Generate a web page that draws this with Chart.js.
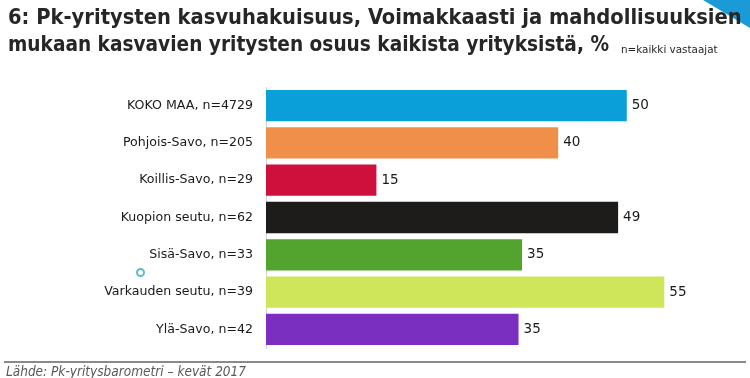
<!DOCTYPE html>
<html>
<head>
<meta charset="utf-8">
<script src="https://cdn.jsdelivr.net/npm/chart.js@4/dist/chart.umd.min.js"></script>
<style>
  html, body { margin: 0; padding: 0; background: #fff; }
  #wrap { position: relative; width: 750px; height: 378px; overflow: hidden; }
  #chart { position: absolute; left: 0; top: 0; }
  .title { position: absolute; left: 8px; font-family: "DejaVu Sans Condensed", "DejaVu Sans"; font-weight: bold;
    font-size: 22px; color: #262626; white-space: nowrap; transform-origin: 0 0; }
  #t1 { top: 4px; }
  #t2 { top: 31px; }
  #note { position: absolute; left: 621px; top: 44px; font-family: "DejaVu Sans Condensed", "DejaVu Sans";
    font-size: 10px; color: #262626; white-space: nowrap; transform-origin: 0 0; }
  #corner { position: absolute; right: 0; top: 0; width: 0; height: 0;
    border-top: 28px solid #1a9bd7; border-left: 47px solid transparent; }
  #rule { position: absolute; left: 4px; width: 742px; top: 361px; height: 2px; background: #8a8a8a; }
  #source { position: absolute; left: 6px; top: 363px; font-family: "DejaVu Sans Condensed", "DejaVu Sans";
    font-style: italic; font-size: 13.5px; color: #595959; white-space: nowrap; }
  #ring { position: absolute; left: 136px; top: 268px; width: 5px; height: 5px; border-radius: 50%;
    border: 2px solid #5cbcc4; }
</style>
</head>
<body>
<div id="wrap">
  <canvas id="chart" width="750" height="378"></canvas>
  <div id="corner"></div>
  <div class="title" id="t1">6: Pk-yritysten kasvuhakuisuus, Voimakkaasti ja mahdollisuuksien</div>
  <div class="title" id="t2">mukaan kasvavien yritysten osuus kaikista yrityksistä, %</div>
  <div id="note">n=kaikki vastaajat</div>
  <div id="ring"></div>
  <div id="rule"></div>
  <div id="source">Lähde: Pk-yritysbarometri – kevät 2017</div>
</div>
<script>
"use strict";

var categories = [
  "KOKO MAA, n=4729",
  "Pohjois-Savo, n=205",
  "Koillis-Savo, n=29",
  "Kuopion seutu, n=62",
  "Sisä-Savo, n=33",
  "Varkauden seutu, n=39",
  "Ylä-Savo, n=42"
];
var values = [50, 40.49, 15.3, 48.8, 35.49, 55.2, 35.0];
var barColors = ["#0a9fd8", "#ef8f4a", "#cf0f3c", "#1e1b1b", "#53a32f", "#cfe65b", "#7a2fc0"];

// squeeze the title lines to the width they take in the original
function fitWidth(id, w) {
  var el = document.getElementById(id);
  el.style.transform = "scaleX(" + (w / el.scrollWidth) + ")";
}
fitWidth("t1", 734);
fitWidth("t2", 601);
fitWidth("note", 97);

var valueLabels = {
  id: "valueLabels",
  afterDatasetsDraw: function(chart) {
    var ctx = chart.ctx;
    var meta = chart.getDatasetMeta(0);
    ctx.save();
    ctx.font = "13.5px 'DejaVu Sans'";
    ctx.fillStyle = "#1a1a1a";
    ctx.textAlign = "left";
    ctx.textBaseline = "middle";
    meta.data.forEach(function(bar, i) {
      ctx.fillText(String(Math.round(values[i])), bar.x + 5, bar.y);
    });
    ctx.restore();
  }
};

new Chart(document.getElementById("chart"), {
  type: "bar",
  data: {
    labels: categories,
    datasets: [{
      data: values,
      backgroundColor: barColors,
      borderWidth: 0,
      barPercentage: 0.84,
      categoryPercentage: 1
    }]
  },
  options: {
    indexAxis: "y",
    responsive: false,
    animation: false,
    layout: {
      padding: { top: 87, bottom: 30, right: 15, left: 0 }
    },
    plugins: {
      legend: { display: false },
      tooltip: { enabled: false }
    },
    scales: {
      x: {
        display: false,
        min: 0,
        max: 65
      },
      y: {
        afterFit: function(scale) { scale.width = 266; },
        grid: { display: false },
        border: { display: true, color: "#d4d4d4", width: 1 },
        ticks: {
          color: "#1a1a1a",
          padding: 5,
          font: { family: "DejaVu Sans", size: 12.6 }
        }
      }
    }
  },
  plugins: [valueLabels]
});
</script>
</body>
</html>
